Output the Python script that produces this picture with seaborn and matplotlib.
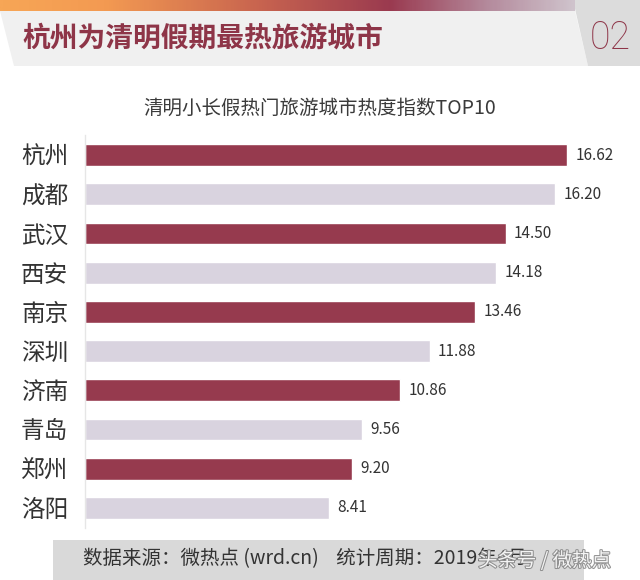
import numpy as np
import pandas as pd
import matplotlib
matplotlib.use("Agg")
import matplotlib.pyplot as plt
import matplotlib.patheffects as pe
from matplotlib.patches import Polygon, Rectangle
from matplotlib.colors import LinearSegmentedColormap
import seaborn as sns

cities = ["杭州", "成都", "武汉", "西安", "南京", "深圳", "济南", "青岛", "郑州", "洛阳"]
values = [16.62, 16.20, 14.50, 14.18, 13.46, 11.88, 10.86, 9.56, 9.20, 8.41]
title = "杭州为清明假期最热旅游城市"
page_no = "02"
subtitle = "清明小长假热门旅游城市热度指数TOP10"
source = "数据来源：微热点 (wrd.cn)    统计周期：2019年4月"
watermark = "头条号 / 微热点"

sns.set_theme(style="white")
plt.rcParams['font.family'] = ['Noto Sans CJK SC', 'DejaVu Sans']

W, H = 640, 580
fig = plt.figure(figsize=(W / 100, H / 100), dpi=100)
fig.patch.set_facecolor("white")

def fx(x):
    return x / W

def fy(y):
    return 1 - y / H

# header background
bg = fig.add_axes([0, 0, 1, 1], zorder=-5)
bg.set_xlim(0, W)
bg.set_ylim(H, 0)
bg.axis("off")
bg.add_patch(Polygon([[0, 11], [575, 11], [588, 66], [14, 66]], closed=True,
                     facecolor="#F0F0F0", edgecolor="none"))
bg.add_patch(Polygon([[573, 0], [640, 0], [640, 66], [588, 66]], closed=True,
                     facecolor="#DCDCDC", edgecolor="none"))
cmap = LinearSegmentedColormap.from_list(
    "hdr", [(0, "#F7A656"), (0.18, "#F39A52"), (0.45, "#C8644F"),
            (0.68, "#9A3A50"), (0.85, "#B48A9C"), (1.0, "#CFC3CC")])
grad = np.linspace(0, 1, 300).reshape(1, -1)
bg.imshow(grad, cmap=cmap, extent=[0, 575, 11, 0], aspect="auto", zorder=1)
bg.set_xlim(0, W)
bg.set_ylim(H, 0)
# footer box
bg.add_patch(Rectangle((53, 540), 531, 40, facecolor="#D9D9D9", edgecolor="none"))

fig.text(fx(22), fy(39), title, fontsize=20, fontweight="bold", color="#8E3548",
         ha="left", va="center")
fig.text(fx(610), fy(38), page_no, fontsize=27, color="#8E3548", ha="center",
         va="center", family=["Roboto", "DejaVu Sans"], fontweight="light")
fig.text(fx(320), fy(108), subtitle, fontsize=14, color="#3A3A3A", ha="center",
         va="center", fontweight="medium")

# bar chart
ax_left, ax_right = 85, 85 + 19 * 29
ax_top, ax_bot = 135.5, 527.5
ax = fig.add_axes([fx(ax_left), fy(ax_bot), (ax_right - ax_left) / W,
                   (ax_bot - ax_top) / H])
df = pd.DataFrame({"city": cities, "value": values})
palette = ["#963A4E" if i % 2 == 0 else "#D9D3DF" for i in range(len(cities))]
sns.barplot(data=df, x="value", y="city", hue="city", palette=palette,
            legend=False, width=0.56, ax=ax, saturation=1)
ax.set_xlim(0, 19)
ax.set_ylim(len(cities) - 0.5, -0.5)
ax.set_xlabel("")
ax.set_ylabel("")
ax.set_xticks([])
for s in ["top", "right", "bottom"]:
    ax.spines[s].set_visible(False)
ax.spines["left"].set_color("#E6E6E6")
ax.spines["left"].set_linewidth(1)
ax.tick_params(axis="y", length=0, pad=12, labelsize=17, labelcolor="#333333")
ax.patch.set_alpha(0)
for i, v in enumerate(values):
    ax.annotate(f"{v:.2f}", (v, i), xytext=(6, 0), textcoords="offset points",
                ha="left", va="center", fontsize=11, color="#333333")

fig.text(fx(83), fy(559), source, fontsize=14, color="#333333", ha="left",
         va="center")
fig.text(fx(478), fy(561), watermark, fontsize=14, color="white", ha="left",
         va="center", alpha=0.9,
         path_effects=[pe.withStroke(linewidth=1.5, foreground="#888888")])

fig.savefig("out.png", dpi=100, facecolor="white")
